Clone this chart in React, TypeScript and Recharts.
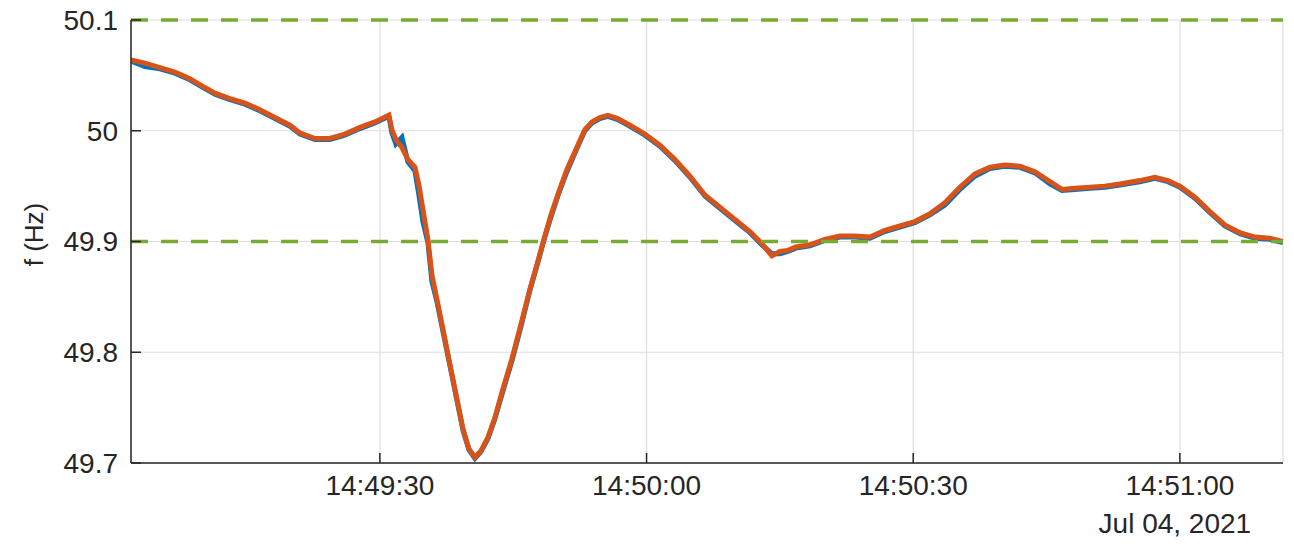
import {
  LineChart,
  Line,
  XAxis,
  YAxis,
  CartesianGrid,
  ReferenceLine,
  Label,
} from 'recharts';

// seconds after 14:49:00, Jul 04 2021
const times = [
  2.0, 3.56, 5.25, 6.94, 8.63, 10.31, 11.44, 13.13, 14.81, 16.5,
  18.19, 19.88, 21.0, 22.69, 24.38, 26.06, 27.75, 29.44, 31.01, 31.35,
  31.8, 32.48, 33.15, 33.94, 34.39, 34.84, 35.4, 35.85, 36.41, 37.09,
  37.88, 38.66, 39.34, 40.01, 40.69, 41.36, 42.15, 42.94, 43.84, 44.85,
  45.86, 46.88, 47.77, 48.45, 49.24, 50.14, 51.04, 52.05, 53.06, 53.85,
  54.75, 55.65, 56.77, 58.13, 59.81, 61.5, 63.19, 64.88, 66.56, 68.25,
  69.94, 71.63, 72.98, 74.1, 75.0, 75.9, 76.8, 78.38, 80.06, 81.75,
  83.44, 85.13, 86.81, 88.5, 90.19, 91.88, 93.56, 95.25, 96.94, 98.63,
  100.31, 102.0, 103.69, 105.38, 106.73, 108.19, 109.88, 111.56, 113.25, 115.5,
  117.19, 118.65, 120.0, 121.69, 123.38, 125.06, 126.75, 128.44, 130.13, 131.59,
];

const freqFiltered = [
  50.064, 50.061, 50.057, 50.053, 50.047, 50.039, 50.034, 50.029, 50.025, 50.019,
  50.012, 50.005, 49.998, 49.993, 49.993, 49.997, 50.003, 50.008, 50.014, 50.001,
  49.992, 49.985, 49.974, 49.967, 49.951, 49.929, 49.902, 49.87, 49.848, 49.821,
  49.789, 49.758, 49.731, 49.713, 49.705, 49.711, 49.723, 49.741, 49.767, 49.794,
  49.825, 49.857, 49.882, 49.902, 49.924, 49.945, 49.965, 49.983, 50.001, 50.008,
  50.012, 50.014, 50.011, 50.005, 49.997, 49.987, 49.974, 49.959, 49.942, 49.931,
  49.92, 49.909, 49.898, 49.887, 49.891, 49.892, 49.895, 49.897, 49.902, 49.905,
  49.905, 49.904, 49.91, 49.914, 49.918, 49.925, 49.935, 49.949, 49.961, 49.967,
  49.969, 49.968, 49.963, 49.954, 49.947, 49.948, 49.949, 49.95, 49.952, 49.955,
  49.958, 49.955, 49.95, 49.94, 49.927, 49.915, 49.908, 49.904, 49.903, 49.9,
];

const freqMeasured = [
  50.063, 50.058, 50.056, 50.052, 50.046, 50.038, 50.033, 50.028, 50.024, 50.018,
  50.011, 50.004, 49.997, 49.992, 49.992, 49.996, 50.002, 50.007, 50.013, 49.998,
  49.988, 49.994, 49.972, 49.964, 49.942, 49.918, 49.899, 49.864, 49.846, 49.819,
  49.788, 49.757, 49.73, 49.712, 49.704, 49.71, 49.722, 49.74, 49.765, 49.792,
  49.823, 49.856, 49.881, 49.901, 49.922, 49.944, 49.963, 49.982, 50.0, 50.007,
  50.011, 50.013, 50.01, 50.004, 49.996, 49.986, 49.973, 49.958, 49.941, 49.93,
  49.919, 49.908, 49.897, 49.889, 49.889, 49.891, 49.894, 49.896, 49.901, 49.904,
  49.904, 49.903, 49.909, 49.913, 49.917, 49.924, 49.933, 49.947, 49.959, 49.966,
  49.968, 49.967, 49.962, 49.952, 49.946, 49.947, 49.948, 49.949, 49.951, 49.954,
  49.957, 49.954, 49.949, 49.939, 49.926, 49.914, 49.907, 49.903, 49.902, 49.899,
];

const timeTicks = [30, 60, 90, 120];
const timeLabels = ['14:49:30', '14:50:00', '14:50:30', '14:51:00'];
const dateLabel = 'Jul 04, 2021';
const freqTicks = [49.7, 49.8, 49.9, 50, 50.1];
const limits = [50.1, 49.9];

const data = times.map((t, i) => ({
  t,
  measured: freqMeasured[i],
  filtered: freqFiltered[i],
}));

const textColor = '#262626';
const font = '"Liberation Sans", Arial, sans-serif';

function TimeTick(props: any) {
  const { x, y, payload } = props;
  const i = timeTicks.indexOf(payload.value);
  return (
    <g>
      <text x={x} y={y} dy={30} textAnchor="middle" fontSize={28} fill={textColor}>
        {timeLabels[i]}
      </text>
      {i === timeTicks.length - 1 && (
        <text x={x - 5} y={y} dy={68} textAnchor="middle" fontSize={28} fill={textColor}>
          {dateLabel}
        </text>
      )}
    </g>
  );
}

export default function App() {
  return (
    <div style={{ position: 'absolute', left: 0, top: 0, width: 1294, height: 549, background: '#fff' }}>
      <LineChart
        width={1294}
        height={549}
        data={data}
        margin={{ top: 20, right: 11, bottom: 0, left: 0 }}
        style={{ fontFamily: font }}
      >
        <CartesianGrid stroke="#dedede" strokeWidth={1.2} />
        <XAxis
          dataKey="t"
          type="number"
          domain={[2, 131.6]}
          ticks={timeTicks}
          allowDataOverflow
          height={86}
          tickSize={-10}
          tickMargin={12}
          tick={<TimeTick />}
          axisLine={{ stroke: textColor, strokeWidth: 1.5 }}
          tickLine={{ stroke: textColor, strokeWidth: 1.5 }}
        />
        <YAxis
          type="number"
          domain={[49.7, 50.1]}
          ticks={freqTicks}
          allowDataOverflow
          width={131}
          tickSize={-10}
          tickMargin={23}
          tickFormatter={(v: number) => String(Number(v.toFixed(1)))}
          tick={{ fontSize: 28, fill: textColor }}
          axisLine={{ stroke: textColor, strokeWidth: 1.5 }}
          tickLine={{ stroke: textColor, strokeWidth: 1.5 }}
        >
          <Label
            content={({ viewBox }: any) => {
              const cx = viewBox.x + 34;
              const cy = viewBox.y + viewBox.height / 2 - 7;
              return (
                <text
                  x={cx}
                  y={cy}
                  transform={`rotate(-90, ${cx}, ${cy})`}
                  textAnchor="middle"
                  dominantBaseline="central"
                  fontSize={26}
                  fill={textColor}
                >
                  f (Hz)
                </text>
              );
            }}
          />
        </YAxis>
        <Line
          dataKey="measured"
          stroke="#0072BD"
          strokeWidth={5}
          dot={false}
          isAnimationActive={false}
        />
        <Line
          dataKey="filtered"
          stroke="#D95319"
          strokeWidth={5}
          dot={false}
          isAnimationActive={false}
        />
        {limits.map((v) => (
          <ReferenceLine
            key={v}
            y={v}
            stroke="#77AC30"
            strokeWidth={3.5}
            strokeDasharray="17 13"
          />
        ))}
      </LineChart>
    </div>
  );
}
